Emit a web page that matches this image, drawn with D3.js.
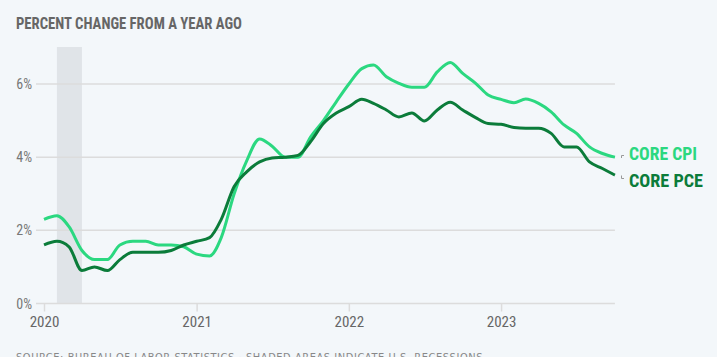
<!DOCTYPE html>
<html>
<head>
<meta charset="utf-8">
<script src="https://cdn.jsdelivr.net/npm/d3@7"></script>
<style>
html,body{margin:0;padding:0;background:#f3f7fa;}
svg{display:block;}
</style>
</head>
<body>
<svg id="chart" width="717" height="357"></svg>
<script>
const startMonth = "2020-01";
const cpiValues = [2.3,2.4,2.1,1.45,1.2,1.2,1.6,1.7,1.7,1.6,1.6,1.55,
  1.35,1.3,1.8,3.0,3.9,4.5,4.3,4.0,4.0,4.55,5.0,5.5,
  6.0,6.42,6.52,6.2,6.02,5.91,5.91,6.33,6.59,6.29,6.02,5.7,
  5.58,5.49,5.59,5.47,5.24,4.88,4.65,4.28,4.1,4.0];
const pceValues = [1.6,1.7,1.55,0.9,1.0,0.9,1.2,1.4,1.4,1.4,1.45,1.6,
  1.7,1.8,2.3,3.2,3.6,3.87,3.98,4.0,4.05,4.42,4.92,5.2,
  5.38,5.58,5.47,5.29,5.1,5.21,4.99,5.29,5.5,5.29,5.08,4.92,
  4.9,4.81,4.79,4.79,4.65,4.28,4.28,3.87,3.69,3.51];
const yTicks = [0,2,4,6];
const xTickYears = ["2020","2021","2022","2023"];
const recession = ["2020-02","2020-04"];
const seriesNames = ["CORE CPI","CORE PCE"];
const titleText = "PERCENT CHANGE FROM A YEAR AGO";
const sourceText = "SOURCE: BUREAU OF LABOR STATISTICS · SHADED AREAS INDICATE U.S. RECESSIONS";

const parseM = d3.timeParse("%Y-%m");
const t0 = parseM(startMonth);
const dates = cpiValues.map((_, i) => d3.timeMonth.offset(t0, i));

const svg = d3.select("#chart");
const narrow = "'Liberation Sans Narrow','Arial Narrow','Roboto Condensed',sans-serif";

const x = d3.scaleTime().domain([new Date(2020,0,1), new Date(2024,0,1)]).range([44, 653.3]);
const y = d3.scaleLinear().domain([0,6]).range([303.5, 84]);

// Title
svg.append("text").attr("x",16).attr("y",29)
  .attr("font-family",narrow).attr("font-weight","bold").attr("font-size",17)
  .attr("fill","#666").attr("textLength",226).attr("lengthAdjust","spacingAndGlyphs")
  .text(titleText);

// Recession band
svg.append("rect")
  .attr("x", x(parseM(recession[0])))
  .attr("width", x(parseM(recession[1])) - x(parseM(recession[0])))
  .attr("y", 47).attr("height", y(0) - 47)
  .attr("fill","#e0e4e8");

// Grid
const xEnd = x(dates[dates.length-1]);
svg.append("g").selectAll("line").data(yTicks).join("line")
  .attr("x1",36).attr("x2",xEnd)
  .attr("y1",d=>y(d)).attr("y2",d=>y(d))
  .attr("stroke","#dcdcdc").attr("stroke-width",1.5);

// Y labels
svg.append("g").selectAll("text").data(yTicks).join("text")
  .attr("x",32).attr("y",d=>y(d)+5)
  .attr("text-anchor","end")
  .attr("font-family",narrow).attr("font-size",14).attr("fill","#777")
  .text(d=>d+"%");

// X axis
const xAxis = d3.axisBottom(x)
  .tickValues(xTickYears.map(s=>d3.timeParse("%Y")(s)))
  .tickFormat(d3.timeFormat("%Y"))
  .tickSize(8).tickSizeOuter(0);
const gx = svg.append("g").attr("transform",`translate(0,${y(0)})`).call(xAxis);
gx.select(".domain").remove();
gx.selectAll(".tick line").attr("stroke","#dcdcdc").attr("stroke-width",1.5);
gx.selectAll(".tick text").attr("y",13).attr("dy","0.71em")
  .attr("font-family",narrow).attr("font-size",15).attr("fill","#666");

// Lines
const line = d3.line().x((d,i)=>x(dates[i])).y(d=>y(d)).curve(d3.curveMonotoneX);
svg.append("path").datum(cpiValues).attr("d",line)
  .attr("fill","none").attr("stroke","#2bd880").attr("stroke-width",3).attr("stroke-linejoin","round");
svg.append("path").datum(pceValues).attr("d",line)
  .attr("fill","none").attr("stroke","#0b7c3a").attr("stroke-width",3).attr("stroke-linejoin","round");

// Leader marks
svg.append("path").attr("d","M621.5,158V155.5H624").attr("fill","none").attr("stroke","#999").attr("stroke-width",1);
svg.append("path").attr("d","M621.5,175.5V178.5H624").attr("fill","none").attr("stroke","#999").attr("stroke-width",1);

// Series labels
svg.append("text").attr("x",629).attr("y",159.5)
  .attr("font-family",narrow).attr("font-weight","bold").attr("font-size",18)
  .attr("fill","#2bd880").attr("textLength",68).attr("lengthAdjust","spacingAndGlyphs")
  .text(seriesNames[0]);
svg.append("text").attr("x",629).attr("y",187)
  .attr("font-family",narrow).attr("font-weight","bold").attr("font-size",18)
  .attr("fill","#0b7c3a").attr("textLength",74).attr("lengthAdjust","spacingAndGlyphs")
  .text(seriesNames[1]);

// Source
svg.append("text").attr("x",16).attr("y",361)
  .attr("font-family","'DejaVu Sans',sans-serif").attr("font-size",10)
  .attr("fill","#888").attr("letter-spacing",0.6).attr("textLength",467).attr("lengthAdjust","spacingAndGlyphs")
  .text(sourceText);
</script>
</body>
</html>
